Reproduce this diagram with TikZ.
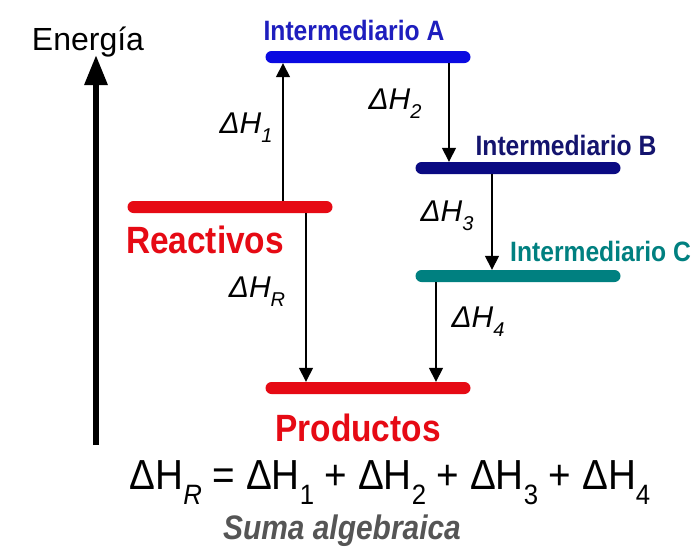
\documentclass[tikz,border=0pt]{standalone}
\usepackage{fontspec}
\setmainfont{Liberation Sans}
\newfontfamily\narrowf[FakeStretch=0.88]{Liberation Sans}
\newfontfamily\eqf[FakeStretch=0.92]{Liberation Sans}
\usetikzlibrary{arrows.meta}
\definecolor{bred}{RGB}{230,10,20}
\definecolor{bblue}{RGB}{10,10,225}
\definecolor{lblue}{RGB}{30,30,190}
\definecolor{bnavy}{RGB}{10,10,130}
\definecolor{lnavy}{RGB}{20,20,110}
\definecolor{bteal}{RGB}{0,128,128}
\definecolor{sgrey}{RGB}{85,85,85}
\tikzset{
  bar/.style={rounded corners=6pt, minimum width=205pt, minimum height=12pt, inner sep=0pt, draw=none},
  lvl/.style={font=\narrowf\fontsize{28}{28}\selectfont\bfseries, inner sep=0pt},
  big/.style={font=\narrowf\fontsize{38}{38}\selectfont\bfseries, text=bred, inner sep=0pt},
  dh/.style={font=\fontsize{30}{30}\selectfont\itshape, inner sep=0pt},
  arr/.style={line width=1.5pt, -{Triangle[width=14pt,length=14pt]}},
}
\newcommand{\dH}[1]{ΔH\raisebox{-0.3em}{\fontsize{20}{20}\selectfont #1}}
\newcommand{\eH}[1]{ΔH\raisebox{-0.35em}{\fontsize{28}{28}\selectfont #1}}
\begin{document}
\begin{tikzpicture}[x=1pt,y=-1pt]
\useasboundingbox (0,0) rectangle (697,558);
\fill[white] (0,0) rectangle (697,558);
% axis
\node[font=\fontsize{32}{32}\selectfont, inner sep=0pt] (E) at (88,42) {Energía};
\coordinate (ax0) at (96,445);
\coordinate (ax1) at (96,55);
\draw[line width=6pt, -{Triangle[width=22pt,length=30pt]}] (ax0) -- (ax1);
% bars
\node[bar, fill=bblue] (A) at (368,57) {};
\node[bar, fill=bred] (R) at (230,207) {};
\node[bar, fill=bnavy] (B) at (518,168) {};
\node[bar, fill=bteal] (C) at (518,276) {};
\node[bar, fill=bred] (P) at (368,388) {};
% labels
\node[lvl, text=lblue] (lA) at (354,30) {Intermediario A};
\node[lvl, text=lnavy] (lB) at (566,145) {Intermediario B};
\node[lvl, text=bteal, anchor=west] (lC) at (510,251) {Intermediario C};
\node[big] (lR) at (205,240) {Reactivos};
\node[big] (lP) at (358,428) {Productos};
% x positions
\coordinate (x1) at (283,0);
\coordinate (x2) at (449,0);
\coordinate (x3) at (492,0);
\coordinate (xR) at (306,0);
\coordinate (x4) at (436,0);
\draw[arr] (R.north -| x1) -- (A.south -| x1);
\draw[arr] (A.south -| x2) -- (B.north -| x2);
\draw[arr] (B.south -| x3) -- (C.north -| x3);
\draw[arr] (R.south -| xR) -- (P.north -| xR);
\draw[arr] (C.south -| x4) -- (P.north -| x4);
\node[dh] (d1) at (246,128) {\dH{1}};
\node[dh] (d2) at (395,104) {\dH{2}};
\node[dh] (d3) at (447,216) {\dH{3}};
\node[dh] (dR) at (257,292) {\dH{R}};
\node[dh] (d4) at (478,322) {\dH{4}};
% equation
\node[font=\eqf\fontsize{42}{42}\selectfont, inner sep=0pt] (eq) at (390,483) {\eH{\textit{R}} = \eH{1} + \eH{2} + \eH{3} + \eH{4}};
\node[font=\narrowf\fontsize{34}{34}\selectfont\bfseries\itshape, text=sgrey, inner sep=0pt] (sa) at (342,531) {Suma algebraica};
\end{tikzpicture}
\end{document}
